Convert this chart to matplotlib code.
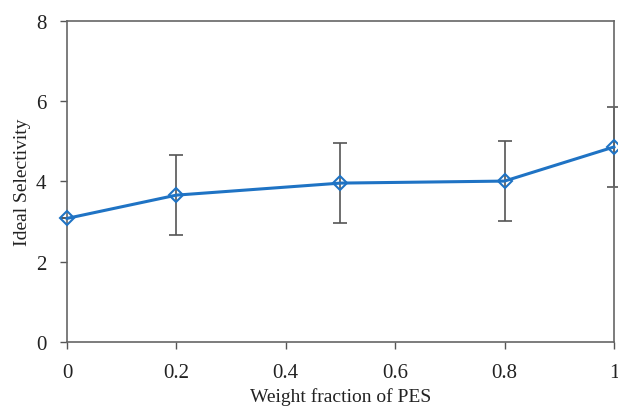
import matplotlib
matplotlib.use("Agg")
import matplotlib.pyplot as plt

# data
pes_fraction = [0, 0.2, 0.5, 0.8, 1.0]
selectivity = [3.08, 3.66, 3.96, 4.01, 4.86]
sel_error = [0, 1.0, 1.0, 1.0, 1.0]
x_ticks = [0, 0.2, 0.4, 0.6, 0.8, 1]
x_tick_labels = ["0", "0.2", "0.4", "0.6", "0.8", "1"]
y_ticks = [0, 2, 4, 6, 8]

plt.rcParams['font.family'] = ['Liberation Serif', 'DejaVu Serif']
plt.rcParams['font.size'] = 12

fig = plt.figure(figsize=(6.18, 4.10), dpi=100)
ax = fig.add_axes([0.1084, 0.1634, 0.885, 0.783])

ax.errorbar(pes_fraction, selectivity, yerr=sel_error, fmt='none',
            ecolor='#555555', elinewidth=1.2, capsize=5, capthick=1.2, zorder=2,
            clip_on=False)
ax.plot(pes_fraction, selectivity, color='#1f73c4', linewidth=2.2,
        marker='D', markersize=7, markerfacecolor='none',
        markeredgecolor='#1f73c4', markeredgewidth=1.5, zorder=3, clip_on=False)

ax.set_xlim(0, 1)
ax.set_ylim(0, 8)
ax.set_xticks(x_ticks)
ax.set_xticklabels(x_tick_labels)
ax.set_yticks(y_ticks)
ax.tick_params(direction='out', length=5, width=1, colors='#555555',
               labelcolor='#222222', labelsize=15)
ax.tick_params(axis='x', pad=10)
ax.tick_params(axis='y', pad=10)
for s in ax.spines.values():
    s.set_color('#666666')
    s.set_linewidth(1.2)

ax.set_xlabel("Weight fraction of PES", fontsize=14, color='#222222', labelpad=4)
ax.set_ylabel("Ideal Selectivity", fontsize=14, color='#222222', labelpad=3)

fig.savefig("out.png", dpi=100)
